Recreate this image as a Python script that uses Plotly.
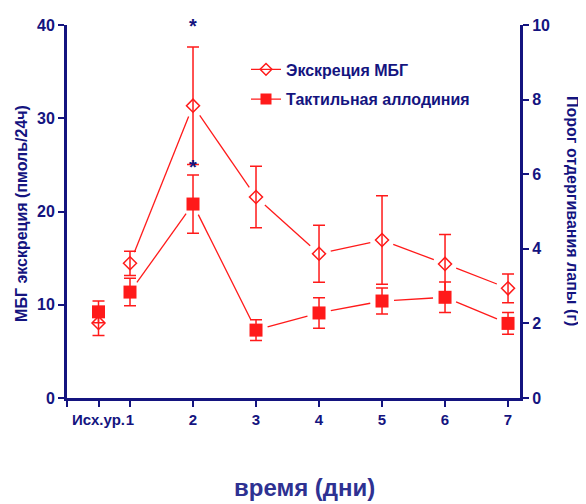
import plotly.graph_objects as go

# ---- data ----
x_pos = [0.5, 1, 2, 3, 4, 5, 6, 7]
tick_vals = [0, 0.5, 1, 2, 3, 4, 5, 6, 7]
tick_text = ["", "Исх.ур.", "1", "2", "3", "4", "5", "6", "7"]
y_ticks = [0, 10, 20, 30, 40]
y2_ticks = [0, 2, 4, 6, 8, 10]
mbg = [8.05, 14.45, 31.35, 21.55, 15.47, 16.94, 14.38, 11.76]
mbg_err = [1.35, 1.3, 6.3, 3.3, 3.05, 4.75, 3.15, 1.55]
allo = [2.31, 2.84, 5.2, 1.82, 2.28, 2.6, 2.7, 2.0]
allo_err = [0.29, 0.37, 0.78, 0.28, 0.41, 0.35, 0.41, 0.29]
name_mbg = "Экскреция МБГ"
name_allo = "Тактильная аллодиния"

# ---- layout constants (page has an 8px body margin) ----
OFF = 8
W, H = 578, 496
ML, MR, MT, MB = 59, 66, 9, 106
PW, PH = W - ML - MR, H - MT - MB
XR = [0, 7.19]
YR = [0, 40]
Y2R = [0, 10]
NAVY = "#14147f"
RED = "#ff1a1a"
FONT = "Liberation Sans, Arial, sans-serif"
GAP = 12  # px gap between line ends and markers


def gapped(xs, ys, yr):
    sx = PW / (XR[1] - XR[0])
    sy = PH / (yr[1] - yr[0])
    ox, oy = [], []
    for i in range(len(xs) - 1):
        x0, y0, x1, y1 = xs[i] * sx, ys[i] * sy, xs[i + 1] * sx, ys[i + 1] * sy
        dx, dy = x1 - x0, y1 - y0
        d = (dx * dx + dy * dy) ** 0.5
        ux, uy = dx / d, dy / d
        ox += [(x0 + ux * GAP) / sx, (x1 - ux * GAP) / sx, None]
        oy += [(y0 + uy * GAP) / sy, (y1 - uy * GAP) / sy, None]
    return ox, oy


def px(sx):  # screen pixel x -> paper
    return (sx - OFF - ML) / PW


def py(sy):  # screen pixel y -> paper
    return (H - MB - (sy - OFF)) / PH


fig = go.Figure()

lx, ly = gapped(x_pos[1:], mbg[1:], YR)
fig.add_trace(go.Scatter(x=lx, y=ly, mode="lines", line=dict(color=RED, width=1.3),
                         showlegend=False, hoverinfo="skip"))
lx2, ly2 = gapped(x_pos[1:], allo[1:], Y2R)
fig.add_trace(go.Scatter(x=lx2, y=ly2, mode="lines", line=dict(color=RED, width=1.3),
                         yaxis="y2", showlegend=False, hoverinfo="skip"))

fig.add_trace(go.Scatter(
    x=x_pos, y=mbg, mode="markers", showlegend=False,
    marker=dict(symbol="diamond-open", size=10, color=RED, line=dict(width=1.5, color=RED)),
    error_y=dict(type="data", array=mbg_err, color=RED, thickness=1.5, width=6)))
fig.add_trace(go.Scatter(
    x=x_pos, y=allo, mode="markers", yaxis="y2", showlegend=False,
    marker=dict(symbol="square", size=13, color=RED),
    error_y=dict(type="data", array=allo_err, color=RED, thickness=1.5, width=6)))

# legend entries
fig.add_trace(go.Scatter(x=[None], y=[None], mode="lines+markers", name=f"<b>{name_mbg}</b>",
                         legendgroup="a",
                         line=dict(color=RED, width=1.3),
                         marker=dict(symbol="diamond-open", size=9, color=RED, line=dict(width=1.5, color=RED))))
fig.add_trace(go.Scatter(x=[None], y=[None], mode="lines+markers", name=f"<b>{name_allo}</b>",
                         legendgroup="b",
                         line=dict(color=RED, width=1.3),
                         marker=dict(symbol="square", size=11, color=RED)))

# significance stars
fig.add_annotation(x=2, y=mbg[2] + mbg_err[2], yref="y", text="<b>*</b>", showarrow=False,
                   yanchor="bottom", yshift=8, font=dict(size=20, color=NAVY, family=FONT))
fig.add_annotation(x=2, y=allo[2] + allo_err[2], yref="y2", text="<b>*</b>", showarrow=False,
                   yanchor="bottom", yshift=-5, font=dict(size=20, color=NAVY, family=FONT))

# axis titles
fig.add_annotation(x=px(22), y=py(210), xref="paper", yref="paper",
                   text="<b>МБГ экскреция (пмоль/24ч)</b>", xanchor="center", yanchor="middle",
                   textangle=-90, showarrow=False, font=dict(size=16, color=NAVY, family=FONT))
fig.add_annotation(x=px(573), y=py(207), xref="paper", yref="paper",
                   text="<b>Порог отдергивания лапы (г)</b>", xanchor="center", yanchor="middle",
                   textangle=90, showarrow=False, font=dict(size=16, color=NAVY, family=FONT))
fig.add_annotation(x=px(304), y=py(489), xref="paper", yref="paper", text="<b>время (дни)</b>",
                   xanchor="center", yanchor="middle",
                   showarrow=False, font=dict(size=24, color="#2e3192", family=FONT))

axis_common = dict(showgrid=False, zeroline=False, showline=True, linecolor=NAVY, linewidth=3,
                   ticks="outside", tickcolor=NAVY, tickwidth=2, ticklen=6)

fig.update_layout(
    width=W, height=H, margin=dict(l=ML, r=MR, t=MT, b=MB),
    paper_bgcolor="white", plot_bgcolor="white",
    font=dict(family=FONT, color=NAVY),
    xaxis=dict(range=XR, tickvals=tick_vals, ticktext=[f"<b>{t}</b>" for t in tick_text],
               tickangle=0, tickfont=dict(size=15, color=NAVY, family=FONT), **axis_common),
    yaxis=dict(range=YR, tickvals=y_ticks, ticktext=[f"<b>{v}</b>" for v in y_ticks],
               tickfont=dict(size=16, color=NAVY, family=FONT), **axis_common),
    yaxis2=dict(range=Y2R, overlaying="y", side="right", anchor="x",
                tickvals=y2_ticks, ticktext=[f"<b>{v}</b>" for v in y2_ticks],
                tickfont=dict(size=16, color=NAVY, family=FONT), **axis_common),
    legend=dict(x=px(246), y=py(45), xanchor="left", yanchor="top", bgcolor="rgba(0,0,0,0)",
                font=dict(size=16, color=NAVY, family=FONT), traceorder="grouped",
                tracegroupgap=6, itemwidth=30),
    showlegend=True,
)

fig.write_html("out.html")
